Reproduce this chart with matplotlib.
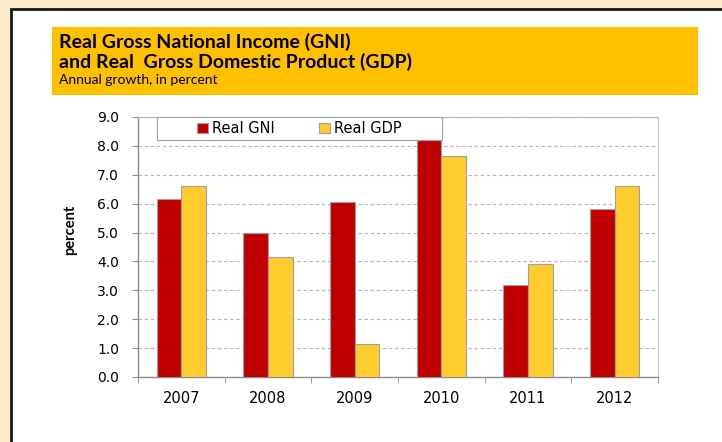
import numpy as np
import matplotlib.pyplot as plt
from matplotlib.patches import Rectangle

years = ['2007', '2008', '2009', '2010', '2011', '2012']
real_gni = [6.15, 5.0, 6.05, 8.2, 3.2, 5.8]
real_gdp = [6.6, 4.15, 1.15, 7.65, 3.9, 6.6]

red = '#C00000'
yellow = '#FFCC2E'
edge = '#A0A0A0'
axis_gray = '#8C8C8C'

W, H = 722, 442
fig = plt.figure(figsize=(W / 100, H / 100), dpi=100)
fig.patch.set_facecolor('#FCEBCB')

# white slide panel with a black border on top / left
fig.patches.append(Rectangle((11 / W, -0.1), 1.2, (H - 9) / H + 0.1,
                             transform=fig.transFigure, facecolor='white',
                             edgecolor='#1A1A1A', linewidth=2, zorder=-2))

# orange title band
fig.patches.append(Rectangle((52 / W, (H - 95) / H), 646 / W, 68 / H,
                             transform=fig.transFigure, facecolor='#FFC000',
                             edgecolor='none', zorder=-1))
fig.text(59 / W, (H - 42) / H, 'Real Gross National Income (GNI)',
         family='Lato', weight='bold', fontsize=14, va='center', color='black')
fig.text(59 / W, (H - 62) / H, 'and Real  Gross Domestic Product (GDP)',
         family='Lato', weight='bold', fontsize=14, va='center', color='black')
fig.text(59 / W, (H - 80) / H, 'Annual growth, in percent',
         family='Lato', fontsize=10, va='center', color='black')

ax = fig.add_axes([138 / W, 65 / H, 520 / W, 260 / H])
ax.set_facecolor('white')

x = np.arange(len(years))
w = 0.283
ax.bar(x - w / 2, real_gni, w, color=red, edgecolor=edge, linewidth=0.8,
       label='Real GNI', zorder=3)
ax.bar(x + w / 2, real_gdp, w, color=yellow, edgecolor=edge, linewidth=0.8,
       label='Real GDP', zorder=3)

ax.set_xlim(-0.5, len(years) - 0.5)
ax.set_ylim(0, 9)
ax.set_yticks(np.arange(0, 10, 1))
ax.set_yticklabels(['%.1f' % v for v in np.arange(0, 10, 1)])
ax.set_xticks(x)
ax.set_xticklabels(years)
ax.set_xticks(np.arange(-0.5, len(years)), minor=True)
ax.tick_params(axis='x', which='major', length=0, pad=10, labelsize=10.5)
ax.tick_params(axis='x', which='minor', length=4, color=axis_gray, direction='out')
ax.tick_params(axis='y', length=4.5, color=axis_gray, labelsize=10, pad=9)

ax.yaxis.grid(True, linestyle=(0, (3, 2.5)), color='#B4B4B4', linewidth=0.8, zorder=0)
ax.set_axisbelow(True)

for s in ['left', 'bottom']:
    ax.spines[s].set_color(axis_gray)
    ax.spines[s].set_linewidth(1.0)
ax.spines['right'].set_color('#C4C4C4')
ax.spines['top'].set_color('#B4B4B4')
ax.spines['top'].set_linestyle((0, (2, 1)))

ax.set_ylabel('percent', family='Lato', weight='bold', fontsize=10.5)
ax.yaxis.set_label_coords(-0.118, 0.565)

# legend box overlapping the top of the plot area
ax.add_patch(Rectangle((19 / 520, 1 - 23 / 260), 285 / 520, 23 / 260,
                       transform=ax.transAxes, facecolor='white',
                       edgecolor='#A0A0A0', linewidth=0.8, zorder=5, clip_on=False))
leg = ax.legend(loc='center', bbox_to_anchor=((19 + 142.5) / 520, 1 - 11.5 / 260),
                ncol=2, frameon=False, fontsize=10.5, handlelength=0.75,
                handleheight=0.75, handletextpad=0.3, columnspacing=3.0,
                borderpad=0)
leg.set_zorder(6)

fig.savefig('out.png', dpi=100, facecolor=fig.get_facecolor())
